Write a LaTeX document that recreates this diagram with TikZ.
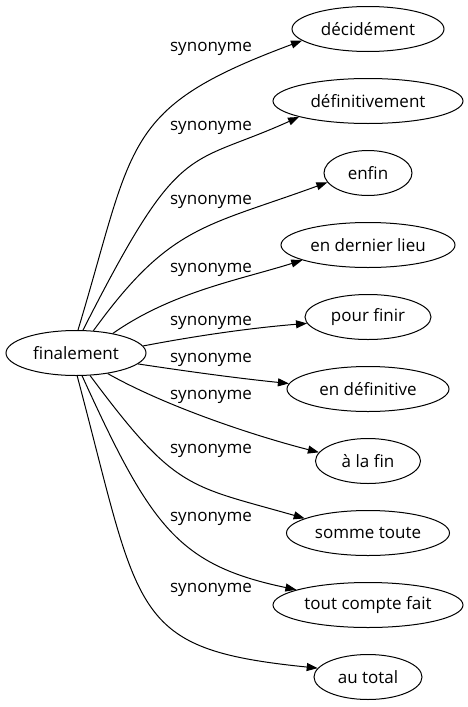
\documentclass[tikz,border=0pt]{standalone}
\usepackage{fontspec}
\setmainfont{Open Sans}
\usetikzlibrary{shapes.geometric,arrows.meta}

\begin{document}
\begin{tikzpicture}[
  x=1pt,y=-1pt,
  font=\fontsize{17}{20}\selectfont,
  word/.style={draw,ellipse,line width=1pt,inner sep=0pt,minimum height=45pt},
  lbl/.style={inner sep=0pt},
  arr/.style={-{Triangle[length=11pt,width=8pt]},line width=1pt},
]
  \useasboundingbox (0,0) rectangle (467,707);

  \node[word,minimum width=140pt] (fin) at (76,353) {finalement};

  \node[word,minimum width=152pt] (dec) at (368,29)  {décidément};
  \node[word,minimum width=190pt] (def) at (368,101) {définitivement};
  \node[word,minimum width=88pt]  (enf) at (368,173) {enfin};
  \node[word,minimum width=174pt] (edl) at (368,245) {en dernier lieu};
  \node[word,minimum width=126pt] (pf)  at (368,317) {pour finir};
  \node[word,minimum width=162pt] (edf) at (368,389) {en définitive};
  \node[word,minimum width=105pt] (alf) at (368,461) {à la fin};
  \node[word,minimum width=163pt] (smt) at (368,533) {somme toute};
  \node[word,minimum width=190pt] (tcf) at (368,605) {tout compte fait};
  \node[word,minimum width=108pt] (aut) at (368,677) {au total};

  \draw[arr] (fin.85)  .. controls (135,141) and (121,108) .. (dec.190);
  \draw[arr] (fin.73)  .. controls (181,137) and (186,168) .. (def.193);
  \draw[arr] (fin.52)  .. controls (170,225) and (205,227) .. (enf.193);
  \draw[arr] (fin.28)  .. controls (172,292) and (239,280) .. (edl.193);
  \draw[arr] (fin.6)   .. controls (195,336) and (250,328) .. (pf.186);
  \draw[arr] (fin.350) .. controls (185,371) and (235,378) .. (edf.176);
  \draw[arr] (fin.327) .. controls (167,407) and (255,436) .. (alf.170);
  \draw[arr] (fin.302) .. controls (176,491) and (188,485) .. (smt.167);
  \draw[arr] (fin.285) .. controls (151,527) and (178,565) .. (tcf.168);
  \draw[arr] (fin.273) .. controls (141,616) and (129,649) .. (aut.170);

  \node[lbl] (l1)  at (211,49)  {synonyme};
  \node[lbl] (l2)  at (211,128) {synonyme};
  \node[lbl] (l3)  at (211,202) {synonyme};
  \node[lbl] (l4)  at (211,270) {synonyme};
  \node[lbl] (l5)  at (211,323) {synonyme};
  \node[lbl] (l6)  at (211,360) {synonyme};
  \node[lbl] (l7)  at (211,397) {synonyme};
  \node[lbl] (l8)  at (211,451) {synonyme};
  \node[lbl] (l9)  at (211,519) {synonyme};
  \node[lbl] (l10) at (211,590) {synonyme};
\end{tikzpicture}
\end{document}
